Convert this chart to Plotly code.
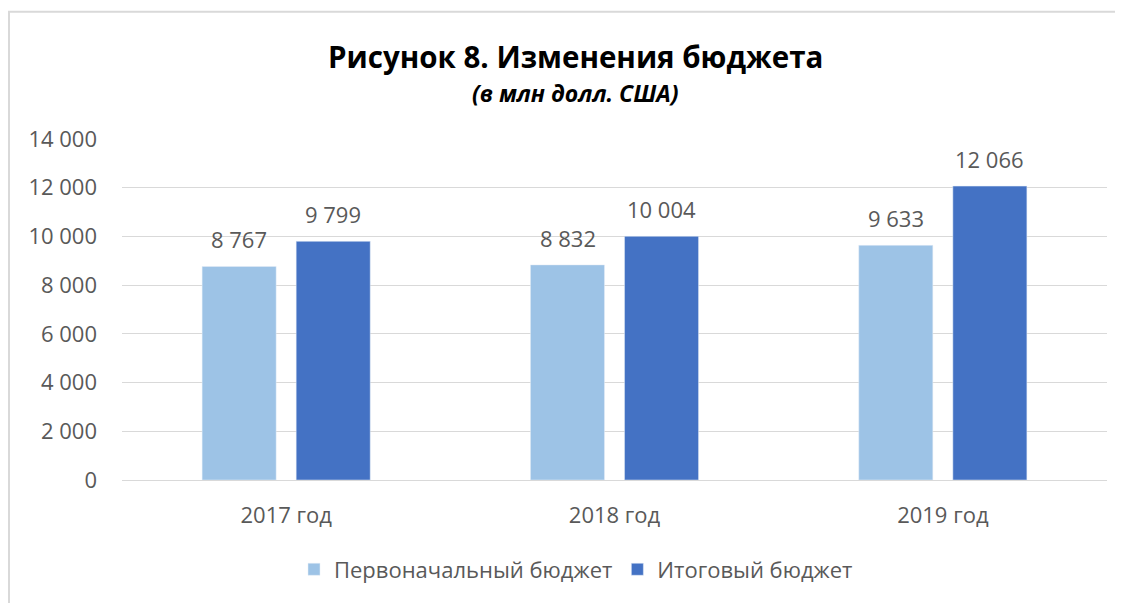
import plotly.graph_objects as go

categories = ["2017 год", "2018 год", "2019 год"]
initial_budget = [8767, 8832, 9633]
final_budget = [9799, 10004, 12066]
series_names = ["Первоначальный бюджет", "Итоговый бюджет"]
title_text = "Рисунок 8. Изменения бюджета"
subtitle_text = "(в млн долл. США)"

# page offset of 8px (body margin) accounted for
OFF = 8
W, H = 1115, 595
P_LEFT, P_RIGHT, P_TOP, P_BOTTOM = 122, 1107, 139, 482
ML = P_LEFT - OFF
MT = P_TOP - OFF
MR = W - (P_RIGHT - OFF)
MB = H - (P_BOTTOM - OFF)
PW, PH = P_RIGHT - P_LEFT, P_BOTTOM - P_TOP

def px_x(px):
    return (px - P_LEFT) / PW

def px_y(py):
    return (P_BOTTOM - py) / PH

FONT = "Open Sans, Noto Sans, sans-serif"
GRAY = "#595959"
COLORS = ["#9DC3E6", "#4472C4"]

fig = go.Figure()
for name, vals, col in zip(series_names, [initial_budget, final_budget], COLORS):
    fig.add_trace(go.Bar(x=categories, y=vals, name=name, marker_color=col))

annotations = [
    dict(text="<b>" + title_text + "</b>", x=px_x(575), y=px_y(56),
         xref="paper", yref="paper", showarrow=False,
         font=dict(size=29.5, color="black", family=FONT), xanchor="center", yanchor="middle"),
    dict(text="<b><i>" + subtitle_text + "</i></b>", x=px_x(575), y=px_y(93),
         xref="paper", yref="paper", showarrow=False,
         font=dict(size=23, color="black", family=FONT), xanchor="center", yanchor="middle"),
]
# data labels above bars
for shift, vals in zip([-47, 47], [initial_budget, final_budget]):
    for c, v in zip(categories, vals):
        annotations.append(dict(
            text=f"{v:,}".replace(",", " "), x=c, y=v, xref="x", yref="y",
            xshift=shift, yshift=27, showarrow=False,
            xanchor="center", yanchor="middle",
            font=dict(size=22, color=GRAY, family=FONT),
        ))

fig.update_layout(
    width=W, height=H,
    margin=dict(l=ML, r=MR, t=MT, b=MB),
    paper_bgcolor="white", plot_bgcolor="white",
    separators=". ",
    barmode="group", bargap=0.427, bargroupgap=0.213,
    font=dict(family=FONT, color=GRAY),
    showlegend=True,
    legend=dict(
        orientation="h", x=px_x(576), y=px_y(572), xanchor="center", yanchor="middle",
        font=dict(size=22, color=GRAY, family=FONT),
        itemwidth=30, traceorder="normal",
    ),
    annotations=annotations,
    shapes=[
        dict(type="rect", xref="paper", yref="paper",
             x0=px_x(9), x1=px_x(1135), y0=px_y(620), y1=px_y(11),
             line=dict(color="#d9d9d9", width=2), layer="below"),
    ],
)

fig.update_yaxes(
    range=[0, 14000], dtick=2000, tickformat=",d",
    showgrid=True, gridcolor="#d9d9d9", gridwidth=1,
    zeroline=True, zerolinecolor="#d9d9d9", zerolinewidth=1,
    showline=False, ticks="", ticklabelstandoff=24,
    tickfont=dict(size=22, color=GRAY, family=FONT),
)
fig.update_xaxes(
    showline=False, ticks="", ticklabelstandoff=20,
    tickfont=dict(size=22, color=GRAY, family=FONT),
)

fig.write_html("out.html")
